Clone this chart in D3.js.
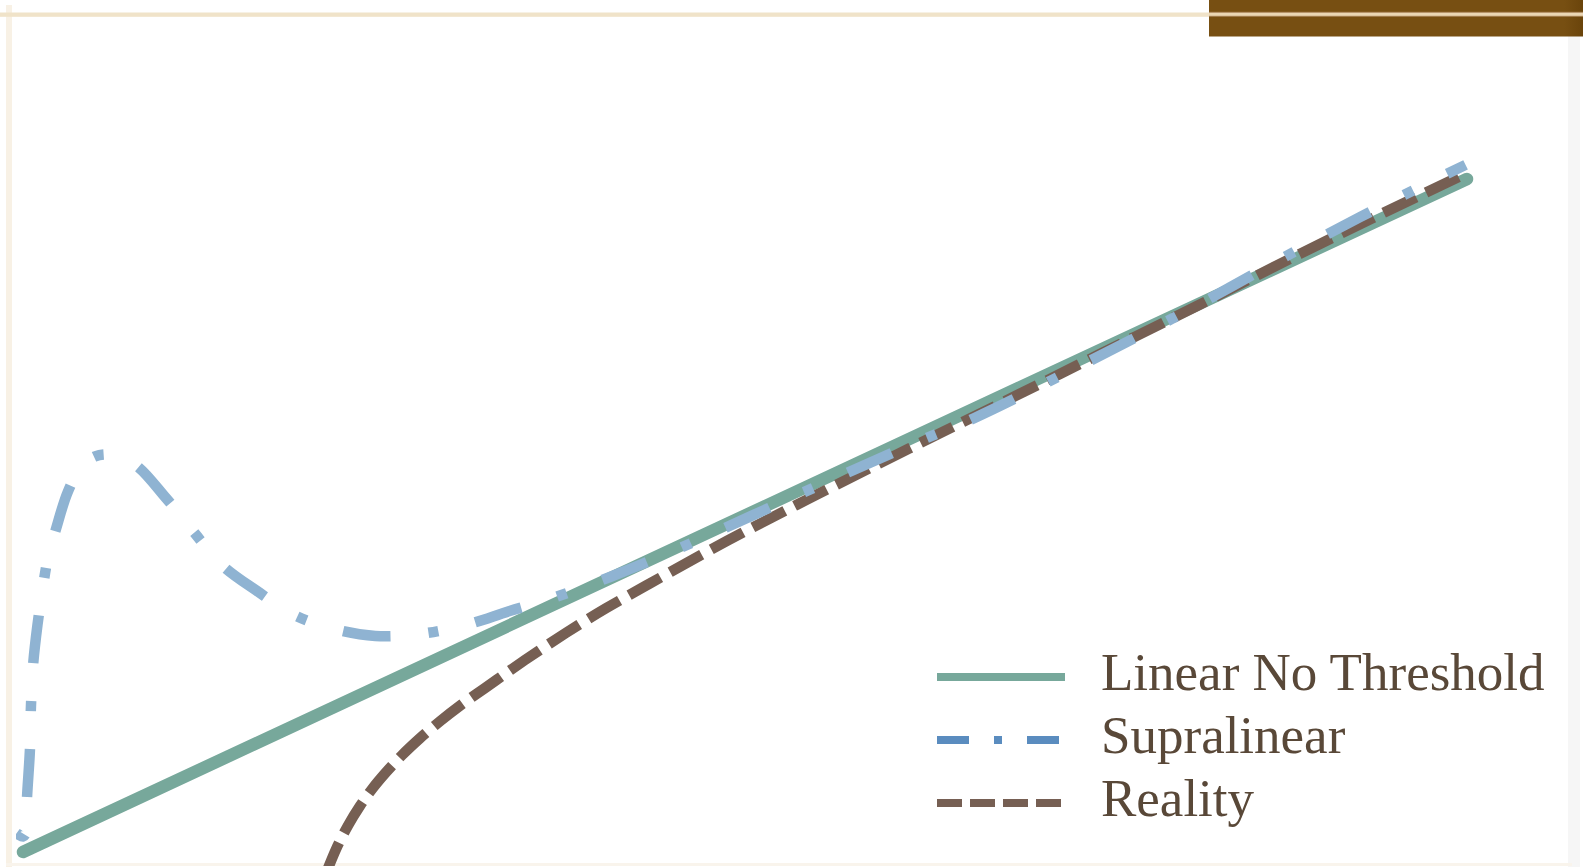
<!DOCTYPE html>
<html lang="en">
<head>
<meta charset="UTF-8">
<title>Dose response models</title>
<style>
    body { margin: 0; padding: 0; background: #fff; overflow: hidden; }
    #chart { width: 1583px; height: 867px; }
    .legend-label {
        font-family: "Liberation Serif", "Times New Roman", serif;
        font-size: 53px;
        fill: #594838;
    }
</style>
</head>
<body>
<div id="chart"></div>
<script src="https://d3js.org/d3.v7.min.js"></script>
<script>
    // series (dose, response in arbitrary units)
    const seriesNames = ["Linear No Threshold", "Supralinear", "Reality"];

    const lntDose = [0, 100];
    const lntResponse = [0, 100];

    const supraDose = [-0.55, 0.0, 0.2, 0.24, 0.28, 0.48, 0.55, 0.7, 1.0, 1.3, 1.7, 2.3, 3.1, 4.0, 5.0, 6.2, 7.8, 9.9, 11.8, 13.8, 16.2, 18.8, 21.8, 24.4, 27.5, 30.6, 33.7, 36.5, 40.7, 45.0, 53.8, 61.8, 65.9, 73.9, 81.2, 88.4, 94.2, 99.9];
    const supraResponse = [2.97, 2.30, 2.82, 5.5, 8.17, 15.2, 21.6, 27.8, 33.7, 38.2, 43.4, 48.1, 53.5, 57.1, 58.8, 59.0, 57.5, 52.6, 47.6, 42.6, 38.8, 35.2, 33.0, 32.1, 32.4, 33.7, 35.8, 37.6, 40.9, 44.7, 53.2, 60.8, 64.5, 73.0, 81.1, 89.6, 96.1, 102.1];

    const realityDose = [20.91, 21.68, 22.51, 23.34, 24.17, 25.14, 26.25, 27.49, 28.88, 30.26, 31.99, 34.76, 37.6, 40.37, 43.14, 48.75, 54.36, 61.36, 67.66, 74.58, 81.51, 88.43, 94.18, 99.52];
    const realityResponse = [-3.58, 0.43, 3.94, 6.85, 9.34, 11.84, 14.39, 16.9, 19.43, 21.73, 24.35, 28.52, 32.55, 36.21, 39.57, 46.22, 52.43, 59.95, 66.62, 73.99, 81.36, 88.88, 94.92, 100.41];

    const W = 1583, H = 867;

    const svg = d3.select("#chart").append("svg")
        .attr("width", W)
        .attr("height", H);

    const x = d3.scaleLinear().domain([0, 100]).range([23, 1467]);
    const y = d3.scaleLinear().domain([0, 100]).range([852, 179]);

    // frame decoration
    svg.append("rect").attr("x", 1568).attr("y", 36).attr("width", 12).attr("height", H - 36).attr("fill", "#f6f6f6");
    svg.append("rect").attr("x", 6).attr("y", 5).attr("width", 6).attr("height", H - 5).attr("fill", "#f8f1e5");
    svg.append("rect").attr("x", 6).attr("y", 863).attr("width", 1566).attr("height", 3).attr("fill", "#f9f4ec");
    svg.append("rect").attr("x", 0).attr("y", 12.5).attr("width", W).attr("height", 4.3).attr("fill", "#f0e3c9");

    // brown header block top right
    const defs = svg.append("defs");
    const grad = defs.append("linearGradient").attr("id", "bar");
    grad.append("stop").attr("offset", "0%").attr("stop-color", "#774f12");
    grad.append("stop").attr("offset", "95%").attr("stop-color", "#774f12");
    grad.append("stop").attr("offset", "100%").attr("stop-color", "#6a440b");
    svg.append("rect").attr("x", 1209).attr("y", 0).attr("width", W - 1209).attr("height", 36.5).attr("fill", "url(#bar)");
    svg.append("rect").attr("x", 1209).attr("y", 11.8).attr("width", W - 1209).attr("height", 5).attr("fill", "#a98458");
    svg.append("rect").attr("x", 1209).attr("y", 12.8).attr("width", W - 1209).attr("height", 3).attr("fill", "#ead6b4");

    defs.append("clipPath").attr("id", "plot")
        .append("rect").attr("x", 16).attr("y", 17).attr("width", 1552).attr("height", 849);

    const plot = svg.append("g").attr("clip-path", "url(#plot)");

    const toPts = (xs, ys) => xs.map((d, i) => [d, ys[i]]);

    const straight = d3.line().x(d => x(d[0])).y(d => y(d[1]));
    const smooth = d3.line().x(d => x(d[0])).y(d => y(d[1])).curve(d3.curveCatmullRom.alpha(0.5));
    const monotone = d3.line().x(d => x(d[0])).y(d => y(d[1])).curve(d3.curveMonotoneX);

    plot.append("path")
        .attr("d", straight(toPts(lntDose, lntResponse)))
        .attr("fill", "none")
        .attr("stroke", "#77a89b")
        .attr("stroke-width", 12.5)
        .attr("stroke-linecap", "round");

    plot.append("path")
        .attr("d", monotone(toPts(realityDose, realityResponse)))
        .attr("fill", "none")
        .attr("stroke", "#765f53")
        .attr("stroke-width", 10.5)
        .attr("stroke-dasharray", "36,11");

    plot.append("path")
        .attr("d", smooth(toPts(supraDose, supraResponse)))
        .attr("fill", "none")
        .attr("stroke", "#8fb3d2")
        .attr("stroke-width", 10.5)
        .attr("stroke-dasharray", "48,38,10,38")
        .attr("stroke-dashoffset", 84);

    // legend
    const legendStyles = [
        { color: "#77a89b", dash: null },
        { color: "#5a8cbf", dash: "32,25,8,25" },
        { color: "#765f53", dash: "25,8" }
    ];
    const legendY = d3.scalePoint().domain(seriesNames).range([677, 803]);

    const legend = svg.append("g");
    seriesNames.forEach((name, i) => {
        legend.append("line")
            .attr("x1", 937).attr("x2", 1065)
            .attr("y1", legendY(name)).attr("y2", legendY(name))
            .attr("stroke", legendStyles[i].color)
            .attr("stroke-width", 8)
            .attr("stroke-dasharray", legendStyles[i].dash);
        legend.append("text")
            .attr("class", "legend-label")
            .attr("x", 1101)
            .attr("y", legendY(name) + 13)
            .text(name);
    });
</script>
</body>
</html>
